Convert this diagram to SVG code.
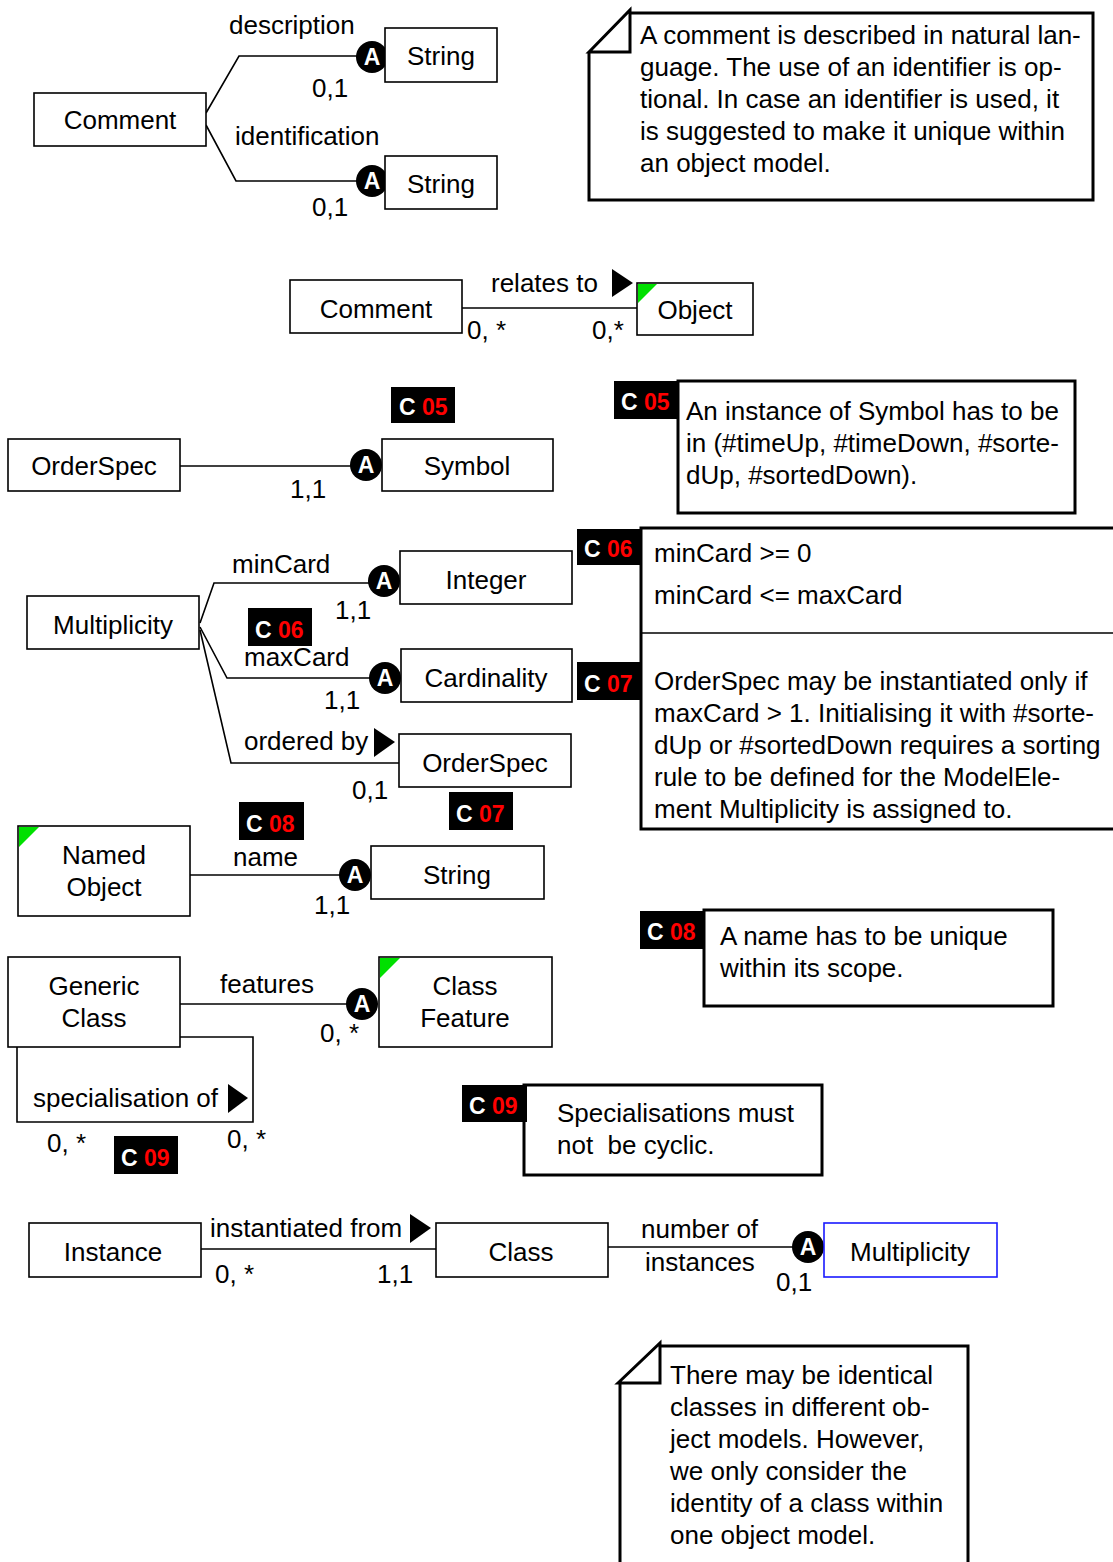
<svg xmlns="http://www.w3.org/2000/svg" width="1113" height="1562" viewBox="0 0 1113 1562">
<style>
text{font-family:"Liberation Sans",Arial,sans-serif;font-size:26px;fill:#000}
.box{fill:#fff;stroke:#000;stroke-width:1.6}
.note{fill:#fff;stroke:#000;stroke-width:3}
.c{text-anchor:middle}
.ln{fill:none;stroke:#000;stroke-width:1.6}
.badge{fill:#000}
.bt{font-weight:bold;font-size:23px;fill:#fff}
.red{fill:#ff0000}
.green{fill:#00e000}
.av{fill:#000}
.at{font-weight:bold;font-size:23px;fill:#fff;text-anchor:middle}
.arr{fill:#000}
</style>
<defs>
<g id="aball"><circle r="16" class="av"/><text class="at" y="8">A</text></g>
</defs>

<g id="connectors">
<path class="ln" d="M206 113 L239 56 H360"/>
<path class="ln" d="M206 125 L236 181 H360"/>
<path class="ln" d="M462 308 H637"/>
<path class="arr" d="M612 269 L612 297 L633 283 Z"/>
<path class="ln" d="M180 466 H355"/>
<path class="ln" d="M200 623 L214 583 H372"/>
<path class="ln" d="M200 627 L227 678 H372"/>
<path class="ln" d="M200 630 L231 763 H399"/>
<path class="arr" d="M374 728 L374 757 L395 742 Z"/>
<path class="ln" d="M190 875 H343"/>
<path class="ln" d="M180 1004 H350"/>
<path class="ln" d="M180 1037 H253 V1122 H17 V1047"/>
<path class="arr" d="M228 1084 L228 1113 L248 1098 Z"/>
<path class="ln" d="M201 1249 H436"/>
<path class="arr" d="M410 1214 L410 1243 L431 1228 Z"/>
<path class="ln" d="M608 1247 H796"/>
<use href="#aball" x="372" y="57"/>
<use href="#aball" x="372" y="181"/>
<use href="#aball" x="366" y="465"/>
<use href="#aball" x="384" y="581"/>
<use href="#aball" x="385" y="678"/>
<use href="#aball" x="355" y="875"/>
<use href="#aball" x="362" y="1004"/>
<use href="#aball" x="808" y="1247"/>
<text x="229" y="34">description</text>
<text x="312" y="97">0,1</text>
<text x="235" y="145">identification</text>
<text x="312" y="216">0,1</text>
<text x="491" y="292">relates to</text>
<text x="467" y="339">0, *</text>
<text x="592" y="339">0,*</text>
<text x="290" y="498">1,1</text>
<text x="232" y="573">minCard</text>
<text x="335" y="619">1,1</text>
<text x="244" y="666">maxCard</text>
<text x="324" y="709">1,1</text>
<text x="244" y="750">ordered by</text>
<text x="352" y="799">0,1</text>
<text x="233" y="866">name</text>
<text x="314" y="914">1,1</text>
<text x="220" y="993">features</text>
<text x="320" y="1042">0, *</text>
<text x="33" y="1107">specialisation of</text>
<text x="47" y="1152">0, *</text>
<text x="227" y="1148">0, *</text>
<text x="210" y="1237">instantiated from</text>
<text x="215" y="1283">0, *</text>
<text x="377" y="1283">1,1</text>
<text x="641" y="1238">number of</text>
<text x="645" y="1271">instances</text>
<text x="776" y="1291">0,1</text>
</g>

<g id="comment1"><rect class="box" x="34" y="93" width="172" height="53"/><text class="c" x="120" y="129">Comment</text></g>
<g id="string1"><rect class="box" x="385" y="28" width="112" height="54"/><text class="c" x="441" y="65">String</text></g>
<g id="string2"><rect class="box" x="385" y="156" width="112" height="53"/><text class="c" x="441" y="193">String</text></g>

<g id="note1">
<path class="note" d="M630 13 H1093 V200 H589 V52"/>
<path class="note" d="M589 52 L630 10 V52 Z"/>
<text x="640" y="44">A comment is described in natural lan-</text>
<text x="640" y="76">guage. The use of an identifier is op-</text>
<text x="640" y="108">tional. In case an identifier is used, it</text>
<text x="640" y="140">is suggested to make it unique within</text>
<text x="640" y="172">an object model.</text>
</g>

<g id="comment2"><rect class="box" x="290" y="280" width="172" height="53"/><text class="c" x="376" y="318">Comment</text></g>
<g id="object"><rect class="box" x="637" y="283" width="116" height="52"/><path class="green" d="M638 284 H657 L638 303 Z"/><text class="c" x="695" y="319">Object</text></g>

<g id="badge-c05a"><rect class="badge" x="391" y="387" width="64" height="36"/><text class="bt" x="399" y="415">C <tspan class="red">05</tspan></text></g>
<g id="orderspec1"><rect class="box" x="8" y="439" width="172" height="52"/><text class="c" x="94" y="475">OrderSpec</text></g>
<g id="symbol"><rect class="box" x="382" y="439" width="171" height="52"/><text class="c" x="467" y="475">Symbol</text></g>

<g id="note-c05">
<rect class="note" x="678" y="381" width="397" height="132"/>
<rect class="badge" x="614" y="381" width="63" height="38"/><text class="bt" x="621" y="410">C <tspan class="red">05</tspan></text>
<text x="686" y="420">An instance of Symbol has to be</text>
<text x="686" y="452">in (#timeUp, #timeDown, #sorte-</text>
<text x="686" y="484">dUp, #sortedDown).</text>
</g>

<g id="multiplicity"><rect class="box" x="27" y="596" width="172" height="53"/><text class="c" x="113" y="634">Multiplicity</text></g>
<g id="integer"><rect class="box" x="400" y="551" width="172" height="53"/><text class="c" x="486" y="589">Integer</text></g>
<g id="cardinality"><rect class="box" x="401" y="649" width="171" height="53"/><text class="c" x="486" y="687">Cardinality</text></g>
<g id="orderspec2"><rect class="box" x="399" y="734" width="172" height="53"/><text class="c" x="485" y="772">OrderSpec</text></g>
<g id="badge-c06a"><rect class="badge" x="248" y="608" width="64" height="38"/><text class="bt" x="255" y="638">C <tspan class="red">06</tspan></text></g>
<g id="badge-c07a"><rect class="badge" x="449" y="792" width="64" height="38"/><text class="bt" x="456" y="822">C <tspan class="red">07</tspan></text></g>

<g id="note-c06-c07">
<path class="note" d="M1115 528 H641 V829 H1115"/>
<path class="ln" d="M641 633 H1115"/>
<rect class="badge" x="577" y="529" width="64" height="36"/><text class="bt" x="584" y="557">C <tspan class="red">06</tspan></text>
<rect class="badge" x="577" y="662" width="64" height="38"/><text class="bt" x="584" y="692">C <tspan class="red">07</tspan></text>
<text x="654" y="562">minCard &gt;= 0</text>
<text x="654" y="604">minCard &lt;= maxCard</text>
<text x="654" y="690">OrderSpec may be instantiated only if</text>
<text x="654" y="722">maxCard &gt; 1. Initialising it with #sorte-</text>
<text x="654" y="754">dUp or #sortedDown requires a sorting</text>
<text x="654" y="786">rule to be defined for the ModelEle-</text>
<text x="654" y="818">ment Multiplicity is assigned to.</text>
</g>

<g id="namedobject"><rect class="box" x="18" y="826" width="172" height="90"/><path class="green" d="M19 827 H39 L19 847 Z"/><text class="c" x="104" y="864">Named</text><text class="c" x="104" y="896">Object</text></g>
<g id="badge-c08a"><rect class="badge" x="239" y="802" width="65" height="38"/><text class="bt" x="246" y="832">C <tspan class="red">08</tspan></text></g>
<g id="string3"><rect class="box" x="371" y="846" width="173" height="53"/><text class="c" x="457" y="884">String</text></g>

<g id="note-c08">
<rect class="note" x="704" y="910" width="349" height="96"/>
<rect class="badge" x="640" y="911" width="63" height="38"/><text class="bt" x="647" y="940">C <tspan class="red">08</tspan></text>
<text x="720" y="945">A name has to be unique</text>
<text x="720" y="977">within its scope.</text>
</g>

<g id="genericclass"><rect class="box" x="8" y="957" width="172" height="90"/><text class="c" x="94" y="995">Generic</text><text class="c" x="94" y="1027">Class</text></g>
<g id="classfeature"><rect class="box" x="379" y="957" width="173" height="90"/><path class="green" d="M380 958 H400 L380 978 Z"/><text class="c" x="465" y="995">Class</text><text class="c" x="465" y="1027">Feature</text></g>
<g id="badge-c09a"><rect class="badge" x="114" y="1136" width="64" height="38"/><text class="bt" x="121" y="1166">C <tspan class="red">09</tspan></text></g>

<g id="note-c09">
<rect class="note" x="524" y="1085" width="298" height="90"/>
<rect class="badge" x="462" y="1085" width="65" height="37"/><text class="bt" x="469" y="1114">C <tspan class="red">09</tspan></text>
<text x="557" y="1122">Specialisations must</text>
<text x="557" y="1154" style="white-space:pre">not  be cyclic.</text>
</g>

<g id="instance"><rect class="box" x="29" y="1223" width="172" height="54"/><text class="c" x="113" y="1261">Instance</text></g>
<g id="class"><rect class="box" x="436" y="1223" width="172" height="54"/><text class="c" x="521" y="1261">Class</text></g>
<g id="multiplicity2"><rect class="box" x="824" y="1223" width="173" height="54" style="stroke:#1a1aff"/><text class="c" x="910" y="1261">Multiplicity</text></g>

<g id="note-bottom">
<path class="note" d="M660 1346 H968 V1565 M620 1565 V1383"/>
<path class="note" d="M618 1383 L660 1343 V1383 Z"/>
<text x="670" y="1384">There may be identical</text>
<text x="670" y="1416">classes in different ob-</text>
<text x="670" y="1448">ject models. However,</text>
<text x="670" y="1480">we only consider the</text>
<text x="670" y="1512">identity of a class within</text>
<text x="670" y="1544">one object model.</text>
</g>
</svg>
